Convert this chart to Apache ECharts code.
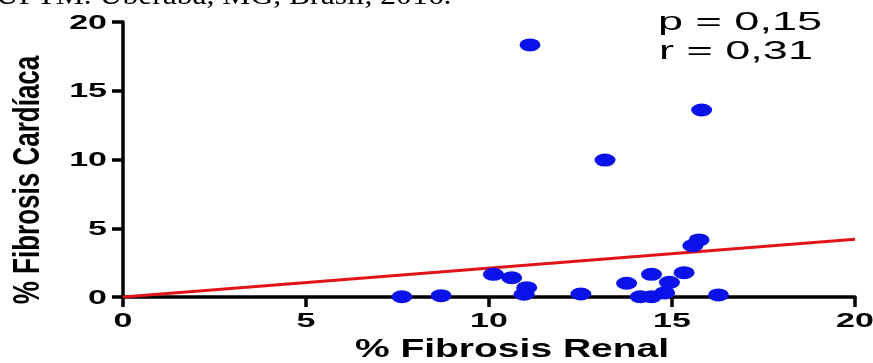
<!DOCTYPE html>
<html>
<head>
<meta charset="utf-8">
<script src="https://cdn.jsdelivr.net/npm/echarts@6/dist/echarts.min.js"></script>
<style>
html,body{margin:0;padding:0;background:#fff;}
#chart{width:873px;height:363px;}
</style>
</head>
<body>
<div id="chart"></div>
<script>
// Data
var renalX = [7.62, 8.69, 10.12, 10.62, 11.03, 10.96, 11.12, 12.51, 13.17, 13.76, 14.13, 14.44, 14.44, 14.80, 14.93, 15.33, 15.57, 15.74, 15.81, 16.27];
var cardiacY = [0.02, 0.10, 1.65, 1.40, 0.68, 0.20, 18.33, 0.22, 9.96, 1.00, 0.02, 0.02, 1.65, 0.30, 1.07, 1.77, 3.73, 4.15, 13.60, 0.15];
var fitX = [0, 20];
var fitY = [0, 4.2];
var xTickValues = [0, 5, 10, 15, 20];
var xTickLabels = ['0', '5', '10', '15', '20'];
var yTickValues = [0, 5, 10, 15, 20];
var yTickLabels = ['0', '5', '10', '15', '20'];
var captionText = 'UFTM. Uberaba, MG, Brasil, 2016.';
var statLines = ['p = 0,15', 'r = 0,31'];
var xName = '% Fibrosis Renal';
var yName = '% Fibrosis Cardíaca';

var scatterData = renalX.map(function (x, i) { return [x, cardiacY[i]]; });
var fitData = fitX.map(function (x, i) { return [x, fitY[i]]; });

var chart = echarts.init(document.getElementById('chart'), null, {renderer: 'canvas'});

function txt(text, x, y, font, align, valign, extra) {
  var el = {
    type: 'text', x: x, y: y, silent: true,
    style: {
      text: text, font: font, fill: '#000',
      textAlign: align, textVerticalAlign: valign,
      align: align, verticalAlign: valign
    }
  };
  for (var k in (extra || {})) el[k] = extra[k];
  return el;
}

chart.setOption({
  animation: false,
  backgroundColor: '#fff',
  grid: {left: 123, right: 18, top: 22, bottom: 66, containLabel: false, outerBoundsMode: 'none'},
  xAxis: {
    type: 'value', min: 0, max: 20, interval: 5,
    axisLine: {show: true, onZero: false, lineStyle: {color: '#000', width: 3.5}},
    axisTick: {show: true, length: 10, lineStyle: {color: '#000', width: 3.5}},
    axisLabel: {show: false},
    splitLine: {show: false}
  },
  yAxis: {
    type: 'value', min: 0, max: 20, interval: 5,
    axisLine: {show: true, onZero: false, lineStyle: {color: '#000', width: 3.5}},
    axisTick: {show: true, length: 11, lineStyle: {color: '#000', width: 3.5}},
    axisLabel: {show: false},
    splitLine: {show: false}
  },
  series: [
    {
      type: 'line', data: fitData, symbol: 'none', clip: false, z: 2,
      lineStyle: {color: '#e01418', width: 2.8}
    },
    {
      type: 'scatter', data: scatterData, symbol: 'circle', symbolSize: [21, 13], clip: false, z: 3,
      itemStyle: {color: '#0a12ea', opacity: 1}
    }
  ]
});

// Tick labels positioned through the axes' own scales (stretched like the reference)
var tickFont = 'bold 20px "Liberation Sans"';
var graphics = [];
xTickValues.forEach(function (v, i) {
  var p = chart.convertToPixel({xAxisIndex: 0, yAxisIndex: 0}, [v, 0]);
  graphics.push(txt(xTickLabels[i], p[0], p[1] + 24, tickFont, 'center', 'middle', {scaleX: 1.7}));
});
yTickValues.forEach(function (v, i) {
  var p = chart.convertToPixel({xAxisIndex: 0, yAxisIndex: 0}, [0, v]);
  graphics.push(txt(yTickLabels[i], p[0] - 16, p[1] + 1, tickFont, 'right', 'middle', {scaleX: 1.7}));
});
graphics.push(txt(captionText, -4, -3, '27px "Liberation Serif"', 'left', 'middle', {scaleX: 1.17}));
graphics.push(txt(statLines[0], 740, 23, '25px "Liberation Sans"', 'center', 'middle', {scaleX: 1.8}));
graphics.push(txt(statLines[1], 736, 52, '25px "Liberation Sans"', 'center', 'middle', {scaleX: 1.8}));
graphics.push(txt(xName, 512, 350, 'bold 26px "Liberation Sans"', 'center', 'middle', {scaleX: 1.5}));
graphics.push(txt(yName, 29, 180, 'bold 26px "Liberation Sans"', 'center', 'middle', {rotation: Math.PI / 2, scaleY: 1.4}));

chart.setOption({graphic: graphics});
</script>
</body>
</html>
